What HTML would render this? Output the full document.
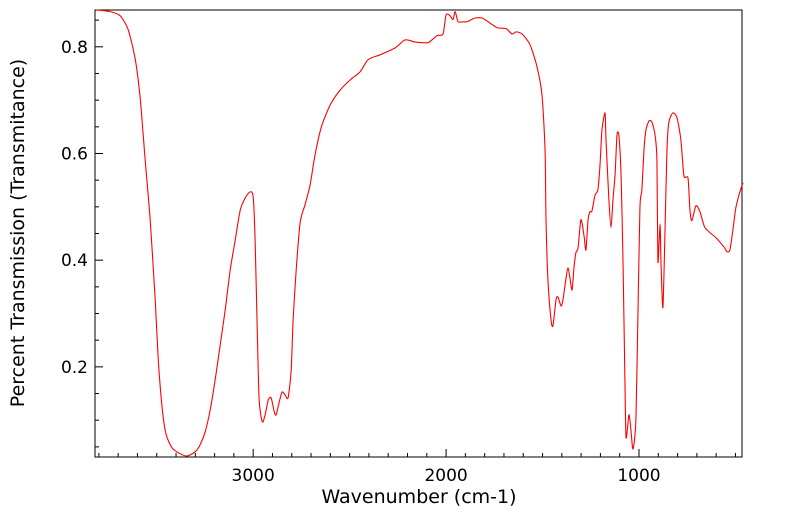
<!DOCTYPE html>
<html><head><meta charset="utf-8"><style>
html,body{margin:0;padding:0;background:#fff;}
svg{display:block;font-family:"DejaVu Sans","Liberation Sans",sans-serif;}
</style></head><body>
<svg id="chart" width="799" height="516"></svg>
<script>
const wavenumbers=[3813,3741,3689,3648,3611,3585,3560,3534,3508,3492,3471,3451,3420,3378,3342,3300,3275,3249,3223,3197,3171,3145,3119,3093,3067,3041,3016,3000,2990,2979,2969,2953,2938,2922,2907,2891,2881,2865,2850,2834,2819,2803,2793,2777,2756,2731,2705,2684,2663,2643,2601,2549,2497,2446,2404,2342,2264,2212,2161,2093,2047,2016,2000,1979,1964,1953,1938,1917,1891,1850,1814,1782,1736,1689,1658,1637,1606,1565,1529,1503,1487,1482,1472,1456,1446,1430,1420,1404,1394,1378,1368,1358,1347,1337,1327,1316,1301,1285,1275,1264,1254,1244,1228,1213,1202,1192,1176,1171,1156,1145,1135,1124,1114,1104,1093,1083,1073,1067,1052,1042,1031,1016,1005,995,985,974,964,948,933,917,907,902,891,886,876,865,855,845,824,803,783,767,746,736,726,705,684,658,601,560,544,529,513,498,477,461];
const transmittance=[0.869,0.866,0.858,0.832,0.776,0.701,0.588,0.476,0.326,0.213,0.120,0.073,0.048,0.037,0.033,0.041,0.054,0.078,0.119,0.176,0.241,0.307,0.382,0.438,0.494,0.517,0.528,0.519,0.438,0.269,0.138,0.097,0.110,0.138,0.142,0.116,0.110,0.134,0.153,0.147,0.142,0.194,0.288,0.382,0.472,0.504,0.541,0.588,0.626,0.654,0.691,0.719,0.738,0.753,0.776,0.785,0.798,0.813,0.809,0.808,0.821,0.824,0.860,0.858,0.851,0.866,0.847,0.847,0.847,0.854,0.854,0.847,0.836,0.834,0.824,0.828,0.824,0.804,0.763,0.710,0.607,0.476,0.363,0.288,0.277,0.326,0.331,0.314,0.326,0.367,0.386,0.367,0.344,0.386,0.414,0.423,0.476,0.446,0.419,0.476,0.491,0.492,0.522,0.532,0.579,0.644,0.676,0.626,0.513,0.461,0.513,0.560,0.635,0.633,0.560,0.401,0.176,0.067,0.110,0.082,0.046,0.101,0.307,0.500,0.532,0.607,0.644,0.661,0.659,0.635,0.588,0.397,0.468,0.397,0.311,0.457,0.607,0.659,0.676,0.667,0.626,0.558,0.554,0.494,0.474,0.502,0.491,0.461,0.442,0.425,0.416,0.419,0.457,0.498,0.528,0.545];
const xTickLabels=[3000,2000,1000];
const yTickLabels=[0.2,0.4,0.6,0.8];

const L=95,R=742,T=10,B=457;
const xMin=3820,xMax=466,yMin=0.031,yMax=0.869;
const sx=v=>L+(xMin-v)/(xMin-xMax)*(R-L);
const sy=v=>B-(v-yMin)/(yMax-yMin)*(B-T);
const NS="http://www.w3.org/2000/svg";
const svg=document.getElementById('chart');
function mk(tag,attrs){const e=document.createElementNS(NS,tag);for(const k in attrs)e.setAttribute(k,attrs[k]);svg.appendChild(e);return e;}

const frame=mk('rect',{x:L,y:T,width:R-L,height:B-T,fill:'none',stroke:'#000','stroke-width':1});



for(let w=3800;w>=500;w-=100){
  const x=sx(w);const major=w%1000===0;
  const t=mk('line',{x1:x,x2:x,y1:B,y2:B-(major?8:4),stroke:'#000','stroke-width':1});
  
  
}
xTickLabels.forEach(v=>{
  const t=mk('text',{x:sx(v),y:B+24,'text-anchor':'middle','font-size':17});
  t.textContent=v;
  
  
});
for(let k=1;k<=17;k++){
  const v=k*0.05;if(v<yMin||v>yMax)continue;
  const y=sy(v);const major=k%4===0;
  const t=mk('line',{x1:L,x2:L+(major?8:4),y1:y,y2:y,stroke:'#000','stroke-width':1});
  
  
}
yTickLabels.forEach(v=>{
  const t=mk('text',{x:L-7,y:sy(v)+6,'text-anchor':'end','font-size':17});
  t.textContent=v.toFixed(1);
  
  
});
const xl=mk('text',{x:419,y:503,'text-anchor':'middle','font-size':19});
xl.textContent='Wavenumber (cm-1)';


const yl=mk('text',{x:0,y:0,'text-anchor':'middle','font-size':19,transform:'translate(24,233) rotate(-90)'});
yl.textContent='Percent Transmission (Transmitance)';



const pts=wavenumbers.map((w,i)=>[sx(w),sy(transmittance[i])]);
let d='M'+pts[0][0].toFixed(2)+','+pts[0][1].toFixed(2);
for(let i=0;i<pts.length-1;i++){
  const p0=pts[Math.max(0,i-1)],p1=pts[i],p2=pts[i+1],p3=pts[Math.min(pts.length-1,i+2)];
  const k=0.12;
  const c1=[p1[0]+(p2[0]-p0[0])*k,p1[1]+(p2[1]-p0[1])*k];
  const c2=[p2[0]-(p3[0]-p1[0])*k,p2[1]-(p3[1]-p1[1])*k];
  d+='C'+c1[0].toFixed(2)+','+c1[1].toFixed(2)+' '+c2[0].toFixed(2)+','+c2[1].toFixed(2)+' '+p2[0].toFixed(2)+','+p2[1].toFixed(2);
}
const line=mk('path',{d:d,fill:'none',stroke:'#ff0000','stroke-width':1.1,'stroke-linejoin':'round'});


</script>
</body></html>
